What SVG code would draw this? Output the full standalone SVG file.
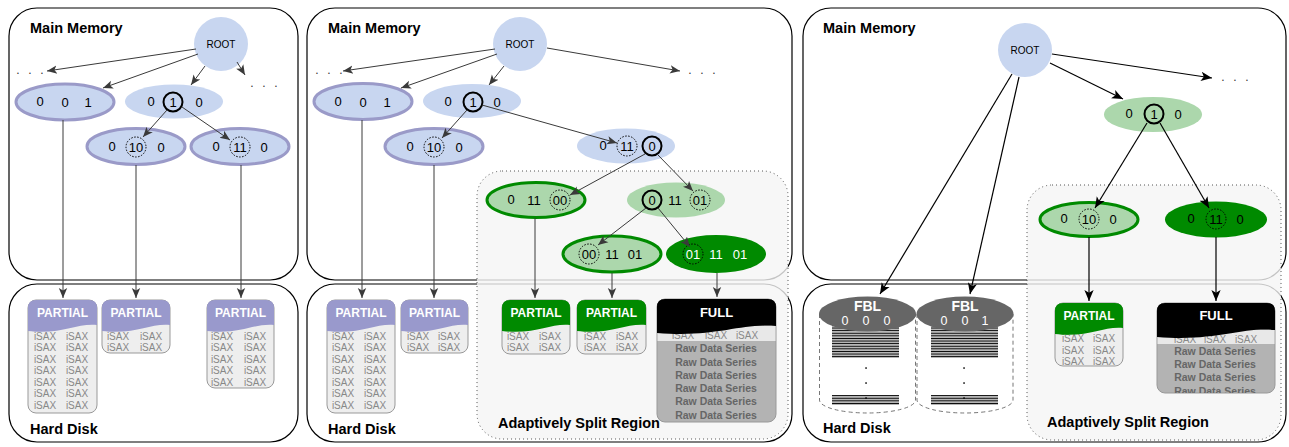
<svg xmlns="http://www.w3.org/2000/svg" width="1289" height="447" viewBox="0 0 1289 447">
<style>
.box{fill:none;stroke:#000;stroke-width:1.2}
.split{fill:#f5f5f5;fill-opacity:0.8;stroke:#555;stroke-width:1;stroke-dasharray:1 3}
.lbl{font-family:"Liberation Sans",Arial,sans-serif;font-weight:bold;font-size:14.5px;fill:#000}
.nb{fill:#c8d6f0}
.nbs{fill:#c8d6f0;stroke:#9a9ac8;stroke-width:3}
.ng{fill:#acd7ac}
.ngs{fill:#acd7ac;stroke:#008a00;stroke-width:3}
.ngd{fill:#008a00}
.t{font-family:"Liberation Sans",Arial,sans-serif;font-size:13px;fill:#000;text-anchor:middle;dominant-baseline:central}
.tw{fill:#fff}
.rt{font-size:10px}
.circ{fill:none;stroke:#000;stroke-width:2}
.dc{fill:none;stroke:#000;stroke-width:1;stroke-dasharray:1.5 1.5}
.c{fill:none;stroke:#3a3a3a;stroke-width:1;marker-end:url(#ag)}
.ck{fill:none;stroke:#000;stroke-width:1.2;marker-end:url(#ak)}
.body{fill:#eee;stroke:#999;stroke-width:1}
.hp{fill:#9999cc}
.hg{fill:#008a00}
.hk{fill:#000}
.gbody{fill:#b3b3b3;stroke:#999;stroke-width:1}
.band{fill:#e8e8e8}
.ht{font-family:"Liberation Sans",Arial,sans-serif;font-weight:bold;font-size:12px;fill:#fff;text-anchor:middle;dominant-baseline:central}
.isax{font-family:"Liberation Sans",Arial,sans-serif;font-size:10px;fill:#888;text-anchor:middle;dominant-baseline:central}
.raw{font-family:"Liberation Sans",Arial,sans-serif;font-weight:bold;font-size:10.5px;fill:#666;text-anchor:middle;dominant-baseline:central}
.dots{font-family:"Liberation Sans",Arial,sans-serif;font-size:12px;fill:#333;letter-spacing:8.7px}
.fbl{fill:#666}
.cyl{fill:#fff;stroke:#777;stroke-width:1;stroke-dasharray:4 3}
.fblt{font-family:"Liberation Sans",Arial,sans-serif;font-weight:bold;font-size:14px;fill:#fff;text-anchor:middle;dominant-baseline:central}
.fbln{font-family:"Liberation Sans",Arial,sans-serif;font-size:12.5px;fill:#fff;text-anchor:middle;dominant-baseline:central}
</style>
<defs>
<marker id="ag" viewBox="0 0 10 10" refX="10" refY="5" markerWidth="10" markerHeight="10" markerUnits="userSpaceOnUse" orient="auto"><path d="M0,0.8 L10,5 L0,9.2 L2.5,5 Z" fill="#3a3a3a"/></marker>
<marker id="ak" viewBox="0 0 10 10" refX="10" refY="5" markerWidth="11" markerHeight="11" markerUnits="userSpaceOnUse" orient="auto"><path d="M0,0.8 L10,5 L0,9.2 L2.5,5 Z" fill="#000"/></marker>
<pattern id="stripes" patternUnits="userSpaceOnUse" width="10" height="2.6"><rect x="0" y="0" width="10" height="0.9" fill="#000"/><rect x="0" y="1.3" width="10" height="0.9" fill="#777"/></pattern>
<clipPath id="clipF3"><rect x="1157" y="303" width="118" height="90" rx="8"/></clipPath>
</defs>

<!-- Panel boxes -->
<g id="panel1-boxes">
<rect class="box" x="9" y="8" width="289" height="272" rx="28"/>
<rect class="box" x="9" y="284" width="289" height="158" rx="28"/>
<text class="lbl" x="30" y="33">Main Memory</text>
<text class="lbl" x="30" y="434">Hard Disk</text>
</g>
<g id="panel2-boxes">
<rect class="box" x="307" y="8" width="485" height="272" rx="28"/>
<rect class="box" x="307" y="284" width="485" height="158" rx="28"/>
<text class="lbl" x="328" y="33">Main Memory</text>
<text class="lbl" x="328" y="434">Hard Disk</text>
</g>
<g id="panel3-boxes">
<rect class="box" x="803" y="8" width="483" height="272" rx="28"/>
<rect class="box" x="803" y="284" width="483" height="158" rx="28"/>
<text class="lbl" x="823" y="33">Main Memory</text>
<text class="lbl" x="823" y="433">Hard Disk</text>
</g>
<g id="split2">
<rect class="split" x="477" y="171" width="311" height="268" rx="25"/>
<text class="lbl" x="498" y="428">Adaptively Split Region</text>
</g>
<g id="split3">
<rect class="split" x="1027" y="185" width="254" height="255" rx="25"/>
<text class="lbl" x="1047" y="427">Adaptively Split Region</text>
</g>

<!-- Panel 1 nodes -->
<g id="p1-root"><circle cx="221" cy="44" r="27" class="nb"/><text class="t rt" x="221" y="44">ROOT</text></g>
<g id="p1-dots-left"><text class="dots" x="16.3" y="74">...</text></g>
<g id="p1-dots-right"><text class="dots" x="250.3" y="87">...</text></g>
<g id="p1-n001"><ellipse cx="65" cy="102" rx="49" ry="18" class="nbs"/><text class="t" x="40" y="101">0</text><text class="t" x="65" y="102">0</text><text class="t" x="88" y="102">1</text></g>
<g id="p1-n010"><ellipse cx="174" cy="101.5" rx="49" ry="17" class="nb"/><text class="t" x="151" y="101">0</text><text class="t" x="173" y="102">1</text><circle class="circ" cx="173" cy="102" r="9.5"/><text class="t" x="199" y="102">0</text></g>
<g id="p1-n0100"><ellipse cx="136" cy="146.5" rx="49" ry="18" class="nbs"/><text class="t" x="112" y="146">0</text><text class="t" x="136" y="147">10</text><circle class="dc" cx="136" cy="147" r="10"/><text class="t" x="161" y="147">0</text></g>
<g id="p1-n0110"><ellipse cx="240" cy="146.5" rx="49" ry="18" class="nbs"/><text class="t" x="216" y="146">0</text><text class="t" x="240" y="147">11</text><circle class="dc" cx="240" cy="147" r="10"/><text class="t" x="264" y="147">0</text></g>

<g id="p1-partial1">
<rect class="body" x="28" y="300" width="69" height="113" rx="8"/>
<g class="isax">
<text x="45" y="336">iSAX</text><text x="77" y="336">iSAX</text>
<text x="45" y="347.5">iSAX</text><text x="77" y="347.5">iSAX</text>
<text x="45" y="359">iSAX</text><text x="77" y="359">iSAX</text>
<text x="45" y="370.5">iSAX</text><text x="77" y="370.5">iSAX</text>
<text x="45" y="382">iSAX</text><text x="77" y="382">iSAX</text>
<text x="45" y="393.5">iSAX</text><text x="77" y="393.5">iSAX</text>
<text x="45" y="405">iSAX</text><text x="77" y="405">iSAX</text>
</g>
<path class="hp" d="M28,331 L28,308 Q28,300 36,300 L89,300 Q97,300 97,308 L97,325 C76,323 62,335 28,331 Z"/>
<text class="ht" x="62.5" y="313">PARTIAL</text>
</g>
<g id="p1-partial2">
<rect class="body" x="102" y="300" width="68" height="53" rx="8"/>
<g class="isax">
<text x="118" y="336">iSAX</text><text x="151" y="336">iSAX</text>
<text x="118" y="347.5">iSAX</text><text x="151" y="347.5">iSAX</text>
</g>
<path class="hp" d="M102,331 L102,308 Q102,300 110,300 L162,300 Q170,300 170,308 L170,325 C150,323 136,335 102,331 Z"/>
<text class="ht" x="136" y="313">PARTIAL</text>
</g>
<g id="p1-partial3">
<rect class="body" x="207" y="300" width="67" height="88" rx="8"/>
<g class="isax">
<text x="222" y="336">iSAX</text><text x="255" y="336">iSAX</text>
<text x="222" y="347.5">iSAX</text><text x="255" y="347.5">iSAX</text>
<text x="222" y="359">iSAX</text><text x="255" y="359">iSAX</text>
<text x="222" y="370.5">iSAX</text><text x="255" y="370.5">iSAX</text>
<text x="222" y="382">iSAX</text><text x="255" y="382">iSAX</text>
</g>
<path class="hp" d="M207,331 L207,308 Q207,300 215,300 L266,300 Q274,300 274,308 L274,325 C254,323 240,335 207,331 Z"/>
<text class="ht" x="240.5" y="313">PARTIAL</text>
</g>

<!-- Panel 2 nodes -->
<g id="p2-root"><circle cx="520" cy="44" r="27" class="nb"/><text class="t rt" x="520" y="44">ROOT</text></g>
<g id="p2-dots-left"><text class="dots" x="315.3" y="74">...</text></g>
<g id="p2-dots-right"><text class="dots" x="688.3" y="74">...</text></g>
<g id="p2-n001"><ellipse cx="363" cy="101.5" rx="49" ry="18" class="nbs"/><text class="t" x="338" y="101">0</text><text class="t" x="363" y="102">0</text><text class="t" x="387" y="102">1</text></g>
<g id="p2-n010"><ellipse cx="472" cy="101" rx="49" ry="17" class="nb"/><text class="t" x="448" y="101">0</text><text class="t" x="473" y="102">1</text><circle class="circ" cx="473" cy="102" r="9.5"/><text class="t" x="497" y="102">0</text></g>
<g id="p2-n0100"><ellipse cx="434" cy="146.5" rx="49" ry="18" class="nbs"/><text class="t" x="410" y="146">0</text><text class="t" x="434" y="147">10</text><circle class="dc" cx="434" cy="147" r="10"/><text class="t" x="459" y="147">0</text></g>
<g id="p2-n0110"><ellipse cx="626" cy="146" rx="49" ry="17.5" class="nb"/><text class="t" x="603" y="145">0</text><text class="t" x="627" y="146">11</text><circle class="dc" cx="627" cy="146" r="10"/><text class="t" x="652" y="146">0</text><circle class="circ" cx="652" cy="146" r="9.5"/></g>
<g id="p2-n01100"><ellipse cx="536" cy="200" rx="49" ry="17.5" class="ngs"/><text class="t" x="511" y="199">0</text><text class="t" x="534" y="200">11</text><text class="t" x="560" y="200">00</text><circle class="dc" cx="560" cy="200" r="10"/></g>
<g id="p2-n01101"><ellipse cx="676" cy="200" rx="49" ry="17.5" class="ng"/><text class="t" x="652" y="200">0</text><circle class="circ" cx="652" cy="200" r="9.5"/><text class="t" x="675" y="200">11</text><text class="t" x="700" y="200">01</text><circle class="dc" cx="700" cy="200" r="10"/></g>
<g id="p2-n001101"><ellipse cx="612" cy="254" rx="49" ry="18" class="ngs"/><text class="t" x="589" y="254">00</text><circle class="dc" cx="589" cy="254" r="10"/><text class="t" x="612" y="254">11</text><text class="t" x="635" y="254">01</text></g>
<g id="p2-n011101"><ellipse cx="716" cy="254" rx="50" ry="19" class="ngd"/><text class="t tw" x="693" y="254">01</text><circle class="dc" cx="693" cy="254" r="10"/><text class="t tw" x="716" y="254">11</text><text class="t tw" x="740" y="254">01</text></g>

<g id="p2-partial1">
<rect class="body" x="327" y="300" width="68" height="113" rx="8"/>
<g class="isax">
<text x="343" y="336">iSAX</text><text x="375" y="336">iSAX</text>
<text x="343" y="347.5">iSAX</text><text x="375" y="347.5">iSAX</text>
<text x="343" y="359">iSAX</text><text x="375" y="359">iSAX</text>
<text x="343" y="370.5">iSAX</text><text x="375" y="370.5">iSAX</text>
<text x="343" y="382">iSAX</text><text x="375" y="382">iSAX</text>
<text x="343" y="393.5">iSAX</text><text x="375" y="393.5">iSAX</text>
<text x="343" y="405">iSAX</text><text x="375" y="405">iSAX</text>
</g>
<path class="hp" d="M327,331 L327,308 Q327,300 335,300 L387,300 Q395,300 395,308 L395,325 C375,323 361,335 327,331 Z"/>
<text class="ht" x="361" y="313">PARTIAL</text>
</g>
<g id="p2-partial2">
<rect class="body" x="401" y="300" width="67" height="53" rx="8"/>
<g class="isax">
<text x="418" y="336">iSAX</text><text x="449" y="336">iSAX</text>
<text x="418" y="347.5">iSAX</text><text x="449" y="347.5">iSAX</text>
</g>
<path class="hp" d="M401,331 L401,308 Q401,300 409,300 L460,300 Q468,300 468,308 L468,325 C448,323 435,335 401,331 Z"/>
<text class="ht" x="434.5" y="313">PARTIAL</text>
</g>
<g id="p2-partial-g1">
<rect class="body" x="502" y="300" width="68" height="54" rx="8"/>
<g class="isax">
<text x="518" y="336">iSAX</text><text x="550" y="336">iSAX</text>
<text x="518" y="347.5">iSAX</text><text x="550" y="347.5">iSAX</text>
</g>
<path class="hg" d="M502,331 L502,308 Q502,300 510,300 L562,300 Q570,300 570,308 L570,325 C550,323 536,335 502,331 Z"/>
<text class="ht" x="536" y="313">PARTIAL</text>
</g>
<g id="p2-partial-g2">
<rect class="body" x="577" y="300" width="69" height="54" rx="8"/>
<g class="isax">
<text x="595" y="336">iSAX</text><text x="627" y="336">iSAX</text>
<text x="595" y="347.5">iSAX</text><text x="627" y="347.5">iSAX</text>
</g>
<path class="hg" d="M577,331 L577,308 Q577,300 585,300 L638,300 Q646,300 646,308 L646,325 C625,323 611,335 577,331 Z"/>
<text class="ht" x="611.5" y="313">PARTIAL</text>
</g>
<g id="p2-full">
<rect class="gbody" x="657" y="299" width="119" height="123" rx="8"/>
<rect class="band" x="657.5" y="326" width="118" height="15"/>
<g class="isax">
<text x="683" y="335">iSAX</text><text x="716" y="335">iSAX</text><text x="747" y="335">iSAX</text>
</g>
<g class="raw">
<text x="716" y="348">Raw Data Series</text>
<text x="716" y="361.5">Raw Data Series</text>
<text x="716" y="374.5">Raw Data Series</text>
<text x="716" y="388">Raw Data Series</text>
<text x="716" y="401">Raw Data Series</text>
<text x="716" y="414.5">Raw Data Series</text>
</g>
<path class="hk" d="M657,333 L657,307 Q657,299 665,299 L768,299 Q776,299 776,307 L776,326 C740,323 716,338 657,333 Z"/>
<text class="ht" x="716.5" y="312" style="font-size:13px">FULL</text>
</g>

<!-- Panel 3 nodes -->
<g id="p3-root"><circle cx="1025" cy="50" r="27" class="nb"/><text class="t rt" x="1025" y="50">ROOT</text></g>
<g id="p3-dots"><text class="dots" x="1221.3" y="81">...</text></g>
<g id="p3-n010"><ellipse cx="1153" cy="114.5" rx="49" ry="17.5" class="ng"/><text class="t" x="1129" y="113">0</text><text class="t" x="1154" y="114">1</text><circle class="circ" cx="1154" cy="114" r="9.5"/><text class="t" x="1178" y="114">0</text></g>
<g id="p3-n0100"><ellipse cx="1089" cy="219.5" rx="49" ry="17" class="ngs"/><text class="t" x="1064" y="218">0</text><text class="t" x="1089" y="219">10</text><circle class="dc" cx="1089" cy="219" r="10"/><text class="t" x="1113" y="219">0</text></g>
<g id="p3-n0110"><ellipse cx="1216" cy="219.5" rx="51" ry="18" class="ngd"/><text class="t" x="1191" y="218">0</text><text class="t" x="1216" y="219">11</text><circle class="dc" cx="1216" cy="219" r="10"/><text class="t" x="1240" y="219">0</text></g>

<g id="p3-fbl1">
<path class="cyl" d="M819.5,314 L819.5,400 A48,13 0 0 0 915.5,400 L915.5,314"/>
<rect x="832" y="325" width="67" height="33" fill="url(#stripes)"/>
<rect x="832" y="395" width="67" height="10" fill="url(#stripes)"/>
<rect x="865.3" y="367.3" width="1.5" height="1.5" fill="#000"/>
<rect x="865.3" y="382.3" width="1.5" height="1.5" fill="#000"/>
<rect x="865.3" y="397.3" width="1.5" height="1.5" fill="#000"/>
<ellipse class="fbl" cx="867.5" cy="314" rx="48.5" ry="17.5"/>
<text class="fblt" x="867.5" y="306">FBL</text>
<text class="fbln" x="845" y="321">0</text><text class="fbln" x="866" y="321">0</text><text class="fbln" x="887" y="321">0</text>
</g>
<g id="p3-fbl2">
<path class="cyl" d="M917,314 L917,400 A48,13 0 0 0 1013,400 L1013,314"/>
<rect x="931" y="325" width="67" height="33" fill="url(#stripes)"/>
<rect x="931" y="395" width="67" height="10" fill="url(#stripes)"/>
<rect x="963.3" y="367.3" width="1.5" height="1.5" fill="#000"/>
<rect x="963.3" y="382.3" width="1.5" height="1.5" fill="#000"/>
<rect x="963.3" y="397.3" width="1.5" height="1.5" fill="#000"/>
<ellipse class="fbl" cx="965" cy="314" rx="48.5" ry="17.5"/>
<text class="fblt" x="965" y="306">FBL</text>
<text class="fbln" x="944" y="321">0</text><text class="fbln" x="965" y="321">0</text><text class="fbln" x="985" y="321">1</text>
</g>

<g id="p3-partial">
<rect class="body" x="1055" y="303" width="68" height="63" rx="8"/>
<g class="isax">
<text x="1073" y="338">iSAX</text><text x="1104" y="338">iSAX</text>
<text x="1073" y="350">iSAX</text><text x="1104" y="350">iSAX</text>
<text x="1073" y="361.5">iSAX</text><text x="1104" y="361.5">iSAX</text>
</g>
<path class="hg" d="M1055,334 L1055,311 Q1055,303 1063,303 L1115,303 Q1123,303 1123,311 L1123,328 C1103,326 1089,338 1055,334 Z"/>
<text class="ht" x="1089" y="316">PARTIAL</text>
</g>
<g id="p3-full">
<rect class="gbody" x="1157" y="303" width="118" height="90" rx="8"/>
<g clip-path="url(#clipF3)">
<rect class="band" x="1157.5" y="330" width="117" height="14"/>
<g class="isax">
<text x="1185" y="339">iSAX</text><text x="1215" y="339">iSAX</text><text x="1246" y="339">iSAX</text>
</g>
<g class="raw">
<text x="1215" y="350.5">Raw Data Series</text>
<text x="1215" y="364">Raw Data Series</text>
<text x="1215" y="377">Raw Data Series</text>
<text x="1215" y="390.5">Raw Data Series</text>
</g>
</g>
<path class="hk" d="M1157,337 L1157,311 Q1157,303 1165,303 L1267,303 Q1275,303 1275,311 L1275,330 C1240,327 1216,342 1157,337 Z"/>
<text class="ht" x="1216" y="315" style="font-size:13px">FULL</text>
</g>

<!-- Connectors (drawn on top so arrowheads show over nodes) -->
<g id="connectors">
<line class="c" x1="196" y1="49" x2="47" y2="71"/>
<line class="c" x1="237" y1="62" x2="245" y2="75"/>
<line class="c" x1="198" y1="54" x2="103" y2="88"/>
<line class="c" x1="205" y1="66" x2="191" y2="85"/>
<line class="c" x1="167" y1="110" x2="143" y2="137"/>
<line class="c" x1="182" y1="107" x2="230" y2="140"/>
<line class="c" x1="63" y1="120" x2="63" y2="298"/>
<line class="c" x1="136" y1="165" x2="136" y2="298"/>
<line class="c" x1="241" y1="165" x2="241" y2="298"/>

<line class="c" x1="495" y1="49" x2="343" y2="71"/>
<line class="c" x1="547" y1="48" x2="680" y2="71"/>
<line class="c" x1="497" y1="54" x2="401" y2="88"/>
<line class="c" x1="504" y1="66" x2="489" y2="85"/>
<line class="c" x1="467" y1="110" x2="442" y2="138"/>
<line class="c" x1="482" y1="105" x2="617" y2="143"/>
<line class="c" x1="645" y1="154" x2="570" y2="195"/>
<line class="c" x1="658" y1="155" x2="693" y2="191"/>
<line class="c" x1="646" y1="208" x2="598" y2="245"/>
<line class="c" x1="658" y1="208" x2="690" y2="247"/>
<line class="c" x1="362" y1="120" x2="362" y2="298"/>
<line class="c" x1="434" y1="165" x2="434" y2="298"/>
<line class="c" x1="535" y1="218" x2="535" y2="298"/>
<line class="c" x1="612" y1="273" x2="612" y2="298"/>
<line class="c" x1="717" y1="273" x2="717" y2="297"/>

<line class="ck" x1="1052" y1="54" x2="1212" y2="78"/>
<line class="ck" x1="1050" y1="63" x2="1123" y2="99"/>
<line class="ck" x1="1012" y1="74" x2="880" y2="294"/>
<line class="ck" x1="1019" y1="77" x2="970" y2="294"/>
<line class="ck" x1="1147" y1="123" x2="1095" y2="208"/>
<line class="ck" x1="1160" y1="123" x2="1209" y2="208"/>
<line class="ck" x1="1089" y1="237" x2="1089" y2="301"/>
<line class="ck" x1="1216" y1="237" x2="1216" y2="301"/>
</g>
</svg>
